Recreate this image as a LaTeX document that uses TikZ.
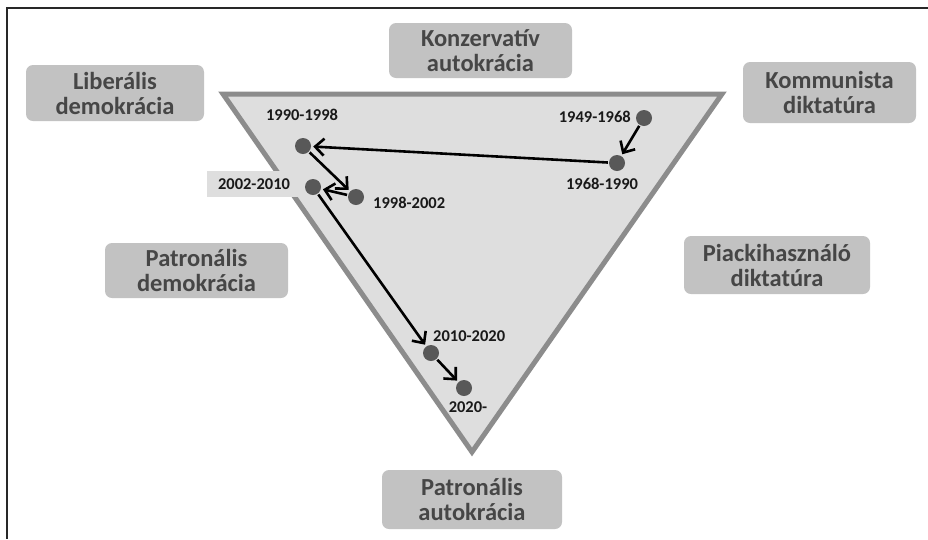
\documentclass[tikz,border=0pt]{standalone}
\usepackage{fontspec}
\setmainfont{Carlito}
\usetikzlibrary{arrows.meta}
\definecolor{boxgray}{RGB}{194,194,194}
\definecolor{boxtext}{RGB}{70,70,70}
\definecolor{trifill}{RGB}{222,222,222}
\definecolor{triedge}{RGB}{140,140,140}
\definecolor{dotgray}{RGB}{88,88,88}
\definecolor{framecol}{RGB}{40,40,40}
\begin{document}
\begin{tikzpicture}[x=1pt,y=-1pt,
  catbox/.style={draw=none,fill=boxgray,rounded corners=7pt,text=boxtext,
    font=\bfseries\fontsize{24.5}{25}\selectfont,align=center,inner sep=0pt},
  dot/.style={circle,fill=dotgray,inner sep=0pt,minimum size=16pt},
  datelbl/.style={font=\bfseries\fontsize{16.5}{18}\selectfont,text=black!90,inner sep=1pt},
  flow/.style={line width=2.6pt,-{Straight Barb[length=9pt,width=17pt,line width=2.6pt]},
    shorten <=1pt,shorten >=2pt}
]
\useasboundingbox (0,0) rectangle (928,539);
% frame
\coordinate (ftl) at (7,8);
\coordinate (ftr) at (928,8);
\coordinate (fbl) at (7,539);
\draw[framecol,line width=2.2pt] (ftr) -- (ftl) -- (fbl);
% triangle
\draw[fill=trifill,draw=triedge,line width=5pt,line join=miter] (223,94) -- (722,94) -- (472,452) -- cycle;
% category boxes
\node[catbox,minimum width=178pt,minimum height=56pt] (lib) at (115,93) {Liberális\\demokrácia};
\node[catbox,minimum width=183pt,minimum height=55pt] (konz) at (480.5,50.5) {Konzervatív\\autokrácia};
\node[catbox,minimum width=173pt,minimum height=61pt] (komm) at (829.5,92.5) {Kommunista\\diktatúra};
\node[catbox,minimum width=183pt,minimum height=55pt] (pdem) at (196.5,270.5) {Patronális\\demokrácia};
\node[catbox,minimum width=186pt,minimum height=58pt] (piac) at (777,265) {Piackihasználó\\diktatúra};
\node[catbox,minimum width=180pt,minimum height=59pt] (paut) at (472,499.5) {Patronális\\autokrácia};
% dots
\node[dot] (p1949) at (644,118) {};
\node[dot] (p1968) at (617,163) {};
\node[dot] (p1990) at (303,146) {};
\node[dot] (p1998) at (356,197) {};
\node[dot] (p2010) at (431,353) {};
\node[dot] (p2020) at (464,388) {};
% label with background box
\node[datelbl,fill=trifill,minimum width=94pt,minimum height=26pt] (l2002) at (254,184) {2002-2010};
\node[dot] (p2002) at (313,187) {};
% date labels
\node[datelbl,anchor=east] (l1949) at (632,117) {1949-1968};
\node[datelbl] (l1968) at (602,184) {1968-1990};
\node[datelbl] (l1990) at (302,115) {1990-1998};
\node[datelbl,anchor=west] (l1998) at (372,203) {1998-2002};
\node[datelbl,anchor=west] (l2010) at (432,336) {2010-2020};
\node[datelbl] (l2020) at (468,407) {2020-};
% arrows
\draw[flow] (p1949) -- (p1968);
\draw[flow] (p1968) -- (p1990);
\draw[flow] (p1990) -- (p1998);
\draw[flow] (p1998) -- (p2002);
\draw[flow] (p2002) -- (p2010);
\draw[flow] (p2010) -- (p2020);
\end{tikzpicture}
\end{document}
